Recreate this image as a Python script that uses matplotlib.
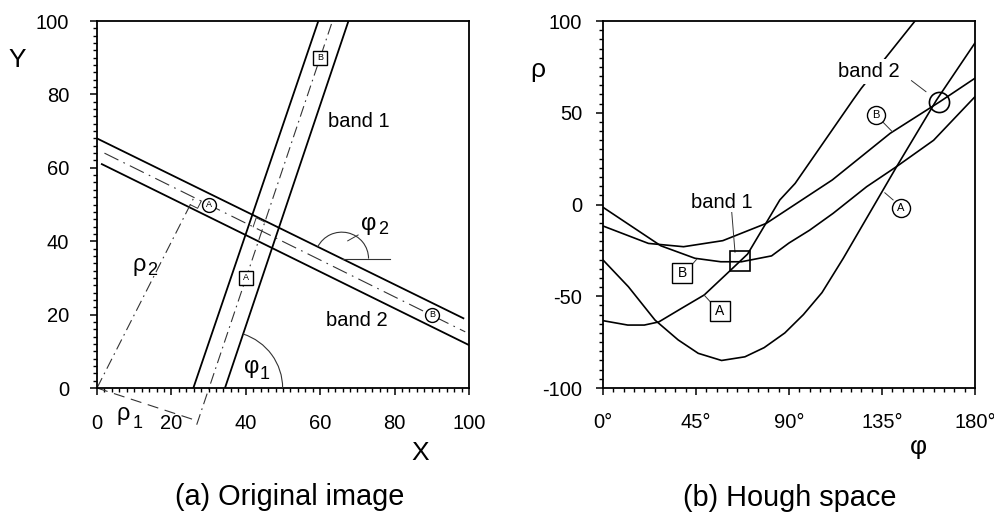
import numpy as np
import matplotlib.pyplot as plt
from matplotlib.patches import Arc
from matplotlib.ticker import MultipleLocator, FixedLocator

plt.rcParams["font.family"] = ["Liberation Sans", "DejaVu Sans"]
plt.rcParams["axes.unicode_minus"] = False

# ---- image space: band edges and centre lines, end points in (x, y) ----
band1_left_x = [25.9, 59.5]
band1_left_y = [0, 100]
band1_right_x = [34.4, 67.6]
band1_right_y = [0, 100]
band1_center_x = [26.8, 63.3]
band1_center_y = [-10, 100]

band2_upper_x = [0, 98.5]
band2_upper_y = [68, 19]
band2_lower_x = [1.3, 100]
band2_lower_y = [61, 11.7]
band2_center_x = [2, 99]
band2_center_y = [64, 15.3]

# sample pixels picked on the two bands
circle_letters = ["A", "B"]
circle_x = [30, 90]
circle_y = [50, 20]
square_letters = ["A", "B"]
square_x = [40, 60]
square_y = [30, 90]

image_ticks = [0, 20, 40, 60, 80, 100]

# ---- Hough space: one curve per sample pixel (phi in degrees, rho) ----
phi_b_circle = [0, 22, 39, 58, 79, 111, 139, 163, 180]
rho_b_circle = [-11.7, -21.2, -23.0, -19.7, -10.3, 13.4, 38.8, 56, 68.8]

phi_b_square = [0, 28, 44.5, 57, 67, 81.6, 90, 100, 111.4, 127.6, 142,
                160, 180]
rho_b_square = [-1.5, -22.5, -29.3, -31.2, -31.2, -28, -21, -14, -4.8, 9.7,
                20.6, 35, 58.7]

phi_a_square = [0, 12, 20, 27, 38, 49, 61, 70, 85.6, 93, 121, 125, 151]
rho_a_square = [-63.3, -65.7, -65.7, -64, -56.6, -49.3, -36.6, -27, 2.5,
                11.5, 57, 63.3, 100]

phi_a_circle = [0, 12.3, 25.2, 36.4, 46.1, 57.4, 68.7, 78, 88, 97, 106,
                116.3, 142.1, 161.4, 180]
rho_a_circle = [-30.2, -44.8, -63, -73.8, -81.1, -85, -83, -78, -70, -60,
                -48, -29.3, 20.6, 56.9, 88]

# accumulator peaks of the two bands
peak_band1 = (66.3, -30.8)
peak_band2 = (162.7, 56.0)

phi_ticks = [0, 45, 90, 135, 180]
phi_tick_labels = ["0°", "45°", "90°", "135°", "180°"]
rho_ticks = [-100, -50, 0, 50, 100]

THIN = "#333333"


def unit(xs, ys):
    """Start point and unit direction of a line given by two end points."""
    p = np.array([xs[0], ys[0]], dtype=float)
    d = np.array([xs[1] - xs[0], ys[1] - ys[0]], dtype=float)
    return p, d / np.hypot(*d)


def foot_from_origin(xs, ys):
    """Foot of the perpendicular dropped from the origin onto a line."""
    p, d = unit(xs, ys)
    return p - np.dot(p, d) * d


def intersect(xs1, ys1, xs2, ys2):
    p1, d1 = unit(xs1, ys1)
    p2, d2 = unit(xs2, ys2)
    t = np.linalg.solve(np.column_stack([d1, -d2]), p2 - p1)
    return p1 + t[0] * d1


def right_angle(ax, corner, u, v, size):
    pts = np.array([corner + size * u, corner + size * (u + v),
                    corner + size * v])
    ax.plot(pts[:, 0], pts[:, 1], color=THIN, lw=0.7, zorder=3)


def style_axes(ax, minor_x, minor_y, xpad, ypad):
    for s in ax.spines.values():
        s.set_linewidth(1.3)
    ax.xaxis.set_minor_locator(MultipleLocator(minor_x))
    ax.yaxis.set_minor_locator(MultipleLocator(minor_y))
    ax.tick_params(which="major", direction="out", length=5, width=1.1,
                   labelsize=14.5)
    ax.tick_params(which="minor", direction="out", length=3.2, width=1.0)
    ax.tick_params(axis="x", which="major", pad=xpad)
    ax.tick_params(axis="y", which="major", pad=ypad)


def letter_marker(ax, x, y, letter, marker, ms, fs):
    ax.plot([x], [y], marker=marker, ms=ms, mfc="white", mec="black",
            mew=1.0, zorder=6, clip_on=False)
    ax.text(x, y, letter, ha="center", va="center", fontsize=fs, zorder=7)


def greek_label(ax, x, y, sym, sub, dx, dy):
    ax.text(x, y, sym, ha="center", va="center", fontsize=17, zorder=5,
            clip_on=False)
    ax.text(x + dx, y + dy, sub, ha="center", va="center", fontsize=13,
            zorder=5, clip_on=False)


def draw_image_space(ax):
    for xs, ys in [(band1_left_x, band1_left_y),
                   (band1_right_x, band1_right_y),
                   (band2_upper_x, band2_upper_y),
                   (band2_lower_x, band2_lower_y)]:
        ax.plot(xs, ys, color="black", lw=1.3, zorder=2)

    dashdot = (0, (10, 4, 1.5, 4))
    ax.plot(band1_center_x, band1_center_y, color=THIN, lw=0.8, ls=dashdot,
            clip_on=False)
    ax.plot(band2_center_x, band2_center_y, color=THIN, lw=0.8,
            ls=(0, (14, 5, 1.5, 5)))

    # normals from the origin: rho_1 to band 1, rho_2 to band 2
    foot1 = foot_from_origin(band1_center_x, band1_center_y)
    foot2 = foot_from_origin(band2_center_x, band2_center_y)
    ax.plot([0, foot1[0]], [0, foot1[1]], color=THIN, lw=0.8,
            ls=(0, (10, 6)), clip_on=False)
    ax.plot([0, foot2[0]], [0, foot2[1]], color=THIN, lw=0.8, ls=dashdot)

    _, d1 = unit(band1_center_x, band1_center_y)
    _, d2 = unit(band2_center_x, band2_center_y)
    right_angle(ax, foot2, -foot2 / np.hypot(*foot2), d2, 2.2)
    cross = intersect(band1_center_x, band1_center_y,
                      band2_center_x, band2_center_y)
    right_angle(ax, cross, d1, -d2, 2.6)

    # angle phi_1 between x axis and band 1
    a1 = np.degrees(np.arctan2(band1_right_y[1] - band1_right_y[0],
                               band1_right_x[1] - band1_right_x[0]))
    ax.add_patch(Arc((band1_right_x[0], band1_right_y[0]), 31, 31,
                     theta1=0, theta2=a1, lw=0.8, color=THIN, zorder=3))

    # angle phi_2 between horizontal and band 2
    a2 = 180 + np.degrees(np.arctan2(band2_upper_y[1] - band2_upper_y[0],
                                     band2_upper_x[1] - band2_upper_x[0]))
    vx = 65.8
    vy = np.interp(vx, band2_upper_x, band2_upper_y)
    ax.add_patch(Arc((vx, vy), 14.4, 14.4, theta1=0, theta2=a2, lw=0.8,
                     color=THIN, zorder=3))
    ax.plot([vx, vx + 13], [vy, vy], color=THIN, lw=0.8)
    ax.plot([67.4, 70.2], [40.1, 41.7], color=THIN, lw=0.7)

    for letter, x, y in zip(circle_letters, circle_x, circle_y):
        letter_marker(ax, x, y, letter, "o", 10, 6.5)
    for letter, x, y in zip(square_letters, square_x, square_y):
        letter_marker(ax, x, y, letter, "s", 10.5, 6.5)

    ax.text(70.4, 72.5, "band 1", ha="center", va="center", fontsize=14.5)
    ax.text(69.8, 18.3, "band 2", ha="center", va="center", fontsize=14.5)

    greek_label(ax, 11.3, 33.5, "ρ", "2", 3.4, -1.4)
    greek_label(ax, 7.1, -7.2, "ρ", "1", 3.8, -2.6)
    greek_label(ax, 41.5, 5.6, "φ", "1", 3.6, -2.0)
    greek_label(ax, 73.0, 44.6, "φ", "2", 3.9, -1.5)

    ax.set_xlim(0, 100)
    ax.set_ylim(0, 100)
    ax.set_xticks(image_ticks)
    ax.set_yticks(image_ticks)
    style_axes(ax, 2, 2, xpad=14, ypad=15)

    ax.text(0.868, -0.177, "X", transform=ax.transAxes, ha="center",
            va="center", fontsize=19)
    ax.text(-0.215, 0.894, "Y", transform=ax.transAxes, ha="center",
            va="center", fontsize=19)


def draw_hough_space(ax):
    for phi, rho in [(phi_b_circle, rho_b_circle),
                     (phi_b_square, rho_b_square),
                     (phi_a_square, rho_a_square),
                     (phi_a_circle, rho_a_circle)]:
        ax.plot(phi, rho, color="black", lw=1.2, zorder=2)

    ax.plot([peak_band1[0]], [peak_band1[1]], marker="s", ms=14.5,
            mfc="none", mec="black", mew=1.2, zorder=5)
    ax.plot([peak_band2[0]], [peak_band2[1]], marker="o", ms=14.5,
            mfc="none", mec="black", mew=1.2, zorder=5)

    ax.text(57.7, 1.2, "band 1", ha="center", va="center", fontsize=14.5,
            bbox=dict(fc="white", ec="none", pad=0.5), zorder=4)
    ax.plot([62.3, 63.9], [-3.9, -26.0], color=THIN, lw=0.7)
    ax.text(128.8, 72.4, "band 2", ha="center", va="center", fontsize=14.5,
            bbox=dict(fc="white", ec="none", pad=2), zorder=4)
    ax.plot([149.3, 156.3], [67.5, 61.5], color=THIN, lw=0.7)

    # curve labels with short leaders
    letter_marker(ax, 132.1, 48.8, "B", "o", 13, 8)
    ax.plot([135.3, 140.0], [45.1, 39.7], color=THIN, lw=0.7)
    letter_marker(ax, 144.0, -1.7, "A", "o", 13, 8)
    ax.plot([140.4, 136.4], [2.5, 6.4], color=THIN, lw=0.7)
    letter_marker(ax, 38.4, -37.5, "B", "s", 14, 10)
    ax.plot([42.9, 45.3], [-33.0, -29.9], color=THIN, lw=0.7)
    letter_marker(ax, 56.6, -58.0, "A", "s", 14, 10)
    ax.plot([52.6, 48.9], [-53.8, -49.3], color=THIN, lw=0.7)

    ax.set_xlim(0, 180)
    ax.set_ylim(-100, 100)
    ax.xaxis.set_major_locator(FixedLocator(phi_ticks))
    ax.set_xticklabels(phi_tick_labels)
    ax.set_yticks(rho_ticks)
    style_axes(ax, 5, 5, xpad=13, ypad=10)

    ax.text(-0.175, 0.866, "ρ", transform=ax.transAxes, ha="center",
            va="center", fontsize=19)
    ax.text(0.849, -0.161, "φ", transform=ax.transAxes, ha="center",
            va="center", fontsize=19)


def main():
    fig = plt.figure(figsize=(9.94, 5.15), dpi=100)
    ax_img = fig.add_axes([0.0976, 0.2466, 0.3742, 0.7126])
    ax_hough = fig.add_axes([0.6066, 0.2466, 0.3742, 0.7126])

    draw_image_space(ax_img)
    draw_hough_space(ax_hough)

    fig.text(0.2918, 0.035, "(a) Original image", ha="center",
             va="center", fontsize=20.8)
    fig.text(0.7948, 0.033, "(b) Hough space", ha="center", va="center",
             fontsize=20.8)

    fig.savefig("out.png", dpi=100)


if __name__ == "__main__":
    main()
